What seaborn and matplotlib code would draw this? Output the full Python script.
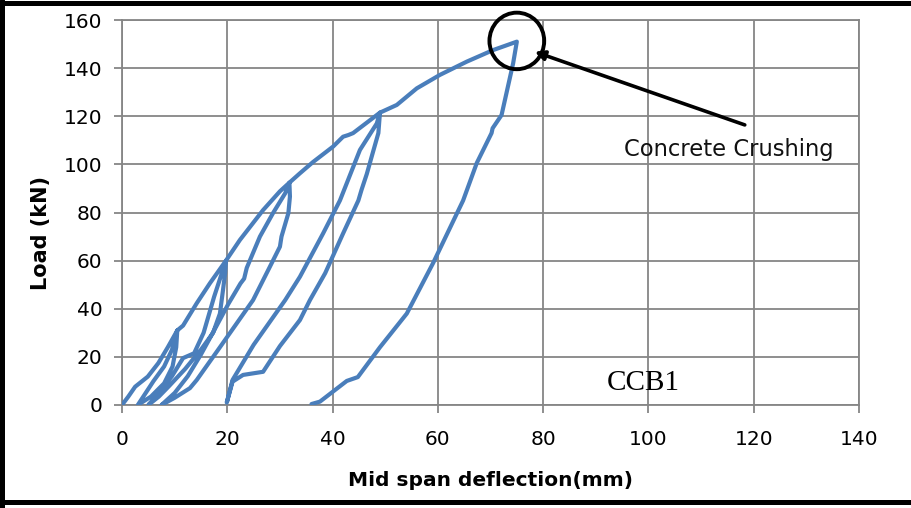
import numpy as np
import pandas as pd
import matplotlib
matplotlib.use("Agg")
import matplotlib.pyplot as plt
from matplotlib.patches import Ellipse
from matplotlib.lines import Line2D
import seaborn as sns

# Load-deflection history of beam CCB1, split into loading / unloading branches
# (deflection in mm, load in kN)
env1_d = [0.0, 1.2, 2.5, 4.9, 6.9, 8.7, 10.5]
env1_p = [0.0, 3.5, 7.6, 11.8, 17.4, 24.0, 31.0]
unl1_d = [10.5, 10.3, 9.6, 8.0, 5.5, 3.0]
unl1_p = [31.0, 24.0, 16.0, 9.0, 3.5, 0.0]
rel2_d = [3.0, 4.2, 6.0, 8.0, 9.5, 10.5]
rel2_p = [0.0, 4.0, 10.0, 16.0, 23.0, 31.0]
env2_d = [10.5, 11.6, 14.2, 16.7, 19.75]
env2_p = [31.0, 33.0, 42.3, 50.6, 60.0]
unl2_d = [19.75, 19.6, 19.2, 18.6, 17.3, 15.0, 12.0, 9.0, 7.0, 5.0]
unl2_p = [60.0, 55.0, 48.0, 38.0, 30.0, 23.0, 15.0, 8.0, 3.5, 0.0]
rel3_d = [5.0, 7.0, 9.5, 11.6, 13.7, 15.5, 17.5, 19.75]
rel3_p = [0.0, 5.0, 12.0, 19.5, 21.5, 30.0, 45.0, 60.0]
env3_d = [19.75, 22.4, 26.8, 30.0, 31.8]
env3_p = [60.0, 68.6, 81.0, 88.8, 92.4]
unl3_d = [31.8, 31.9, 31.6, 30.3, 30.0, 28.1, 24.9, 18.6, 14.2, 12.9, 10.0, 7.5]
unl3_p = [92.4, 86.6, 79.7, 70.0, 65.8, 57.5, 43.6, 24.0, 10.4, 7.0, 3.0, 0.0]
rel4_d = [7.5, 10.0, 12.5, 15.0, 17.5, 20.2, 22.5, 23.2, 23.7, 26.2, 28.7, 31.0, 31.8]
rel4_p = [0.0, 5.0, 12.0, 21.0, 31.0, 42.0, 50.5, 52.5, 57.0, 70.0, 79.8, 88.0, 92.4]
env4_d = [31.8, 33.8, 36.3, 40.1, 42.0, 43.0, 43.9, 49.0]
env4_p = [92.4, 96.3, 101.0, 107.4, 111.5, 112.2, 113.0, 121.5]
unl4_d = [49.0, 48.7, 47.4, 46.5, 45.5, 44.9, 42.0, 38.6, 35.7, 33.8, 30.0, 26.8, 23.0, 21.0, 19.9]
unl4_p = [121.5, 113.0, 103.0, 96.0, 89.4, 85.0, 71.3, 54.8, 43.6, 35.3, 24.5, 13.8, 12.5, 9.7, 1.0]
rel5_d = [19.9, 21.0, 25.0, 31.0, 33.8, 38.2, 41.4, 45.2, 48.4, 49.0]
rel5_p = [1.0, 10.4, 25.0, 43.6, 53.3, 71.3, 85.0, 106.0, 117.0, 121.5]
env5_d = [49.0, 52.2, 56.0, 60.4, 65.5, 70.5, 75.0]
env5_p = [121.5, 124.7, 131.6, 137.2, 142.7, 147.5, 151.0]
unl5_d = [75.0, 74.3, 72.1, 70.4, 70.2, 67.4, 64.8, 59.1, 54.1, 49.0, 44.8, 42.7, 37.6, 36.0]
unl5_p = [151.0, 142.0, 120.5, 115.0, 113.0, 100.6, 85.0, 59.0, 38.0, 24.0, 11.6, 10.0, 1.4, 0.4]

branches = [
    (env1_d, env1_p), (unl1_d, unl1_p), (rel2_d, rel2_p), (env2_d, env2_p),
    (unl2_d, unl2_p), (rel3_d, rel3_p), (env3_d, env3_p), (unl3_d, unl3_p),
    (rel4_d, rel4_p), (env4_d, env4_p), (unl4_d, unl4_p), (rel5_d, rel5_p),
    (env5_d, env5_p), (unl5_d, unl5_p),
]
deflection = np.concatenate([b[0] for b in branches])
load = np.concatenate([b[1] for b in branches])
df = pd.DataFrame({"deflection": deflection, "load": load})

x_ticks = [0, 20, 40, 60, 80, 100, 120, 140]
y_ticks = [0, 20, 40, 60, 80, 100, 120, 140, 160]

sns.set_theme(style="white")
plt.rcParams["font.family"] = ["DejaVu Sans"]

grid_col = "#868686"
line_col = "#4a7ebb"

fig = plt.figure(figsize=(9.12, 5.08), dpi=100)
ax = fig.add_axes([122 / 912, 1 - 405 / 508, (859 - 122) / 912, (405 - 20) / 508])

sns.lineplot(data=df, x="deflection", y="load", sort=False, estimator=None,
             color=line_col, linewidth=3.0, ax=ax, zorder=3)
for ln in ax.get_lines():
    ln.set_solid_joinstyle("round")
    ln.set_solid_capstyle("round")

ax.set_xlim(0, 140)
ax.set_ylim(0, 160)
ax.set_xticks(x_ticks)
ax.set_yticks(y_ticks)
ax.grid(True, color=grid_col, linewidth=1.3)
ax.set_axisbelow(True)
for s in ax.spines.values():
    s.set_color(grid_col)
    s.set_linewidth(1.3)
ax.tick_params(axis="both", direction="out", length=6, width=1.3, color=grid_col,
               labelsize=14.5, labelcolor="black")
ax.tick_params(axis="x", pad=12)
ax.tick_params(axis="y", pad=8)
ax.tick_params(bottom=True, left=True)

ax.set_xlabel("Mid span deflection(mm)", fontsize=14.5, fontweight="bold",
              labelpad=16, color="black")
ax.set_ylabel("Load (kN)", fontsize=15, fontweight="bold", color="black")
ax.yaxis.set_label_coords(-0.096, 0.447)

# failure marker: circle at peak load plus arrow with label
ax.add_patch(Ellipse((75.0, 151.3), width=10.4, height=23.5, fill=False,
                     edgecolor="black", linewidth=2.8, zorder=4, clip_on=False))
ax.annotate("", xy=(78.4, 146.8), xytext=(118.3, 116.4),
            arrowprops=dict(arrowstyle="-|>", color="black", linewidth=2.6,
                            mutation_scale=14, shrinkA=0, shrinkB=0), zorder=5)
ax.text(115.3, 106.3, "Concrete Crushing", fontsize=16.3, ha="center", va="center",
        color="#111111")
ax.text(99.0, 9.0, "CCB1", fontsize=21, ha="center", va="center",
        family="Liberation Serif", color="black")

# outer frame
for xs, ys in [((0.002, 0.002), (0, 1)), ((0, 1), (0.995, 0.995)),
               ((0, 1), (0.011, 0.011))]:
    fig.add_artist(Line2D(xs, ys, color="black", linewidth=3.6,
                          transform=fig.transFigure))

fig.savefig("out.png", dpi=100)
